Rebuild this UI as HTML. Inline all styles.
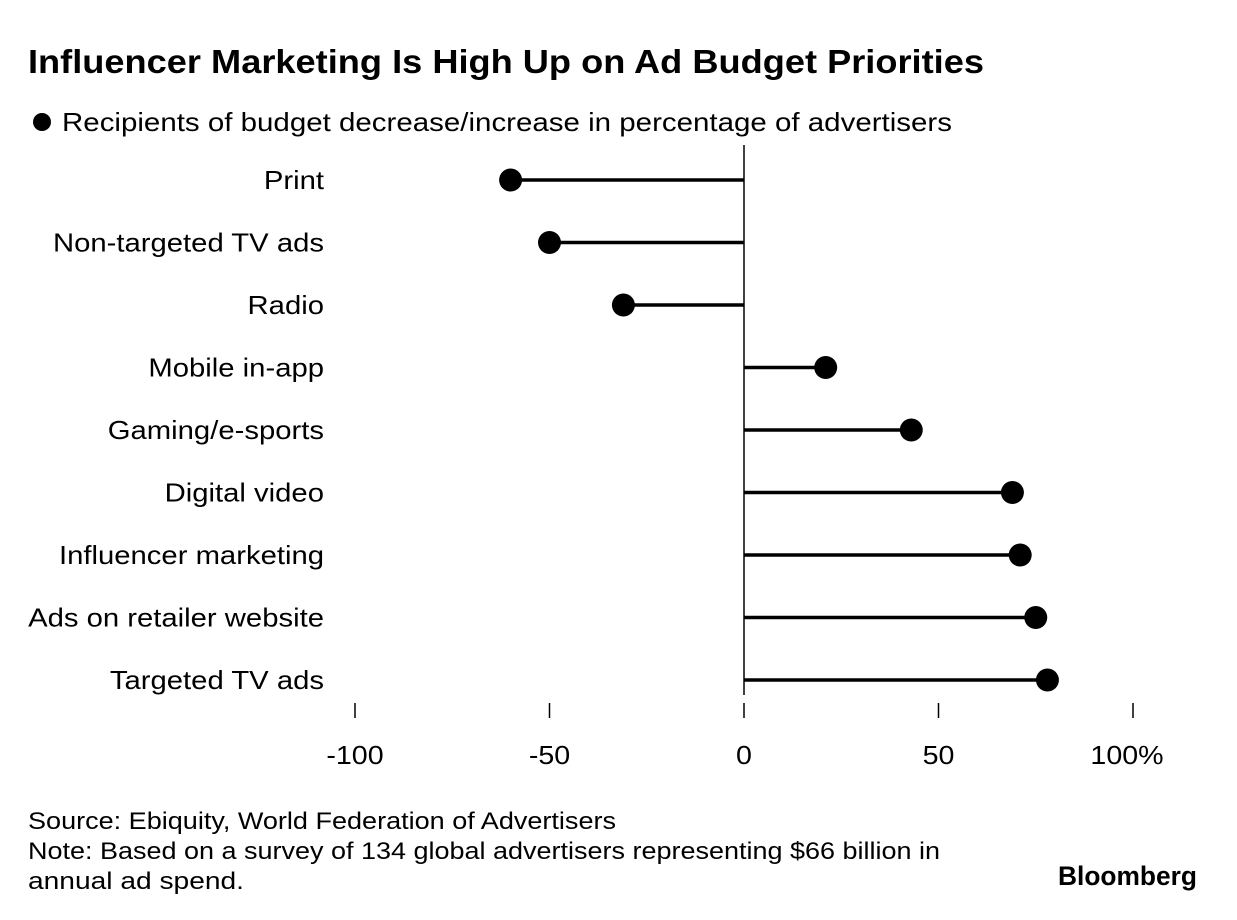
<!DOCTYPE html>
<html><head><meta charset="utf-8"><style>
body{margin:0;background:#fff;font-family:"Liberation Sans",sans-serif;color:#000}
#wrap{position:relative;width:1237px;height:920px;overflow:hidden}
</style></head><body>
<div id="wrap">
<svg id="chart" width="1237" height="920" xmlns="http://www.w3.org/2000/svg">
<text x="28" y="73" font-size="33" font-weight="bold" textLength="956" lengthAdjust="spacingAndGlyphs">Influencer Marketing Is High Up on Ad Budget Priorities</text>
<circle cx="42" cy="122" r="9" fill="#000"/>
<text x="62" y="131" font-size="26" textLength="890" lengthAdjust="spacingAndGlyphs">Recipients of budget decrease/increase in percentage of advertisers</text>
<g id="plot"></g>
<text x="28" y="829" font-size="24" textLength="588" lengthAdjust="spacingAndGlyphs">Source: Ebiquity, World Federation of Advertisers</text>
<text x="28" y="859" font-size="24" textLength="912" lengthAdjust="spacingAndGlyphs">Note: Based on a survey of 134 global advertisers representing $66 billion in</text>
<text x="28" y="889" font-size="24" textLength="216" lengthAdjust="spacingAndGlyphs">annual ad spend.</text>
<text x="1058" y="885" font-size="27" font-weight="bold" textLength="139" lengthAdjust="spacingAndGlyphs">Bloomberg</text>
</svg>
</div>
<script>
const categories=["Print","Non-targeted TV ads","Radio","Mobile in-app","Gaming/e-sports","Digital video","Influencer marketing","Ads on retailer website","Targeted TV ads"];
const values=[-60,-50,-31,21,43,69,71,75,78];
const tickValues=[-100,-50,0,50,100];
const tickLabels=["-100","-50","0","50","100%"];
const NS="http://www.w3.org/2000/svg";
const g=document.getElementById('plot');
const x=v=>744+v*3.89;
const y=i=>180+i*62.5;
function mk(t,a){const e=document.createElementNS(NS,t);for(const k in a)e.setAttribute(k,a[k]);g.appendChild(e);return e;}
function widen(el,f,anchorEnd){const w=el.getComputedTextLength();el.setAttribute('textLength',w*f);el.setAttribute('lengthAdjust','spacingAndGlyphs');}
const ax=mk('line',{x1:x(0),x2:x(0),y1:145,y2:695,stroke:'#000','stroke-width':1.5});


categories.forEach((c,i)=>{
  const l=mk('text',{x:324,y:y(i)+9,'font-size':26,'text-anchor':'end'});l.textContent=c;
  
  
  widen(l,1.125);
  const s=mk('line',{x1:x(0),x2:x(values[i]),y1:y(i),y2:y(i),stroke:'#000','stroke-width':3.5});
  
  
  const d=mk('circle',{cx:x(values[i]),cy:y(i),r:11.5,fill:'#000'});
  
  
});
tickValues.forEach((v,i)=>{
  const t=mk('line',{x1:x(v),x2:x(v),y1:703,y2:718,stroke:'#000','stroke-width':1.5});
  
  
  const l=mk('text',{x:x(v)+(i==4?-6:0),y:764,'font-size':26,'text-anchor':'middle'});l.textContent=tickLabels[i];
  
  
  widen(l,1.1);
});
</script>
</body></html>
